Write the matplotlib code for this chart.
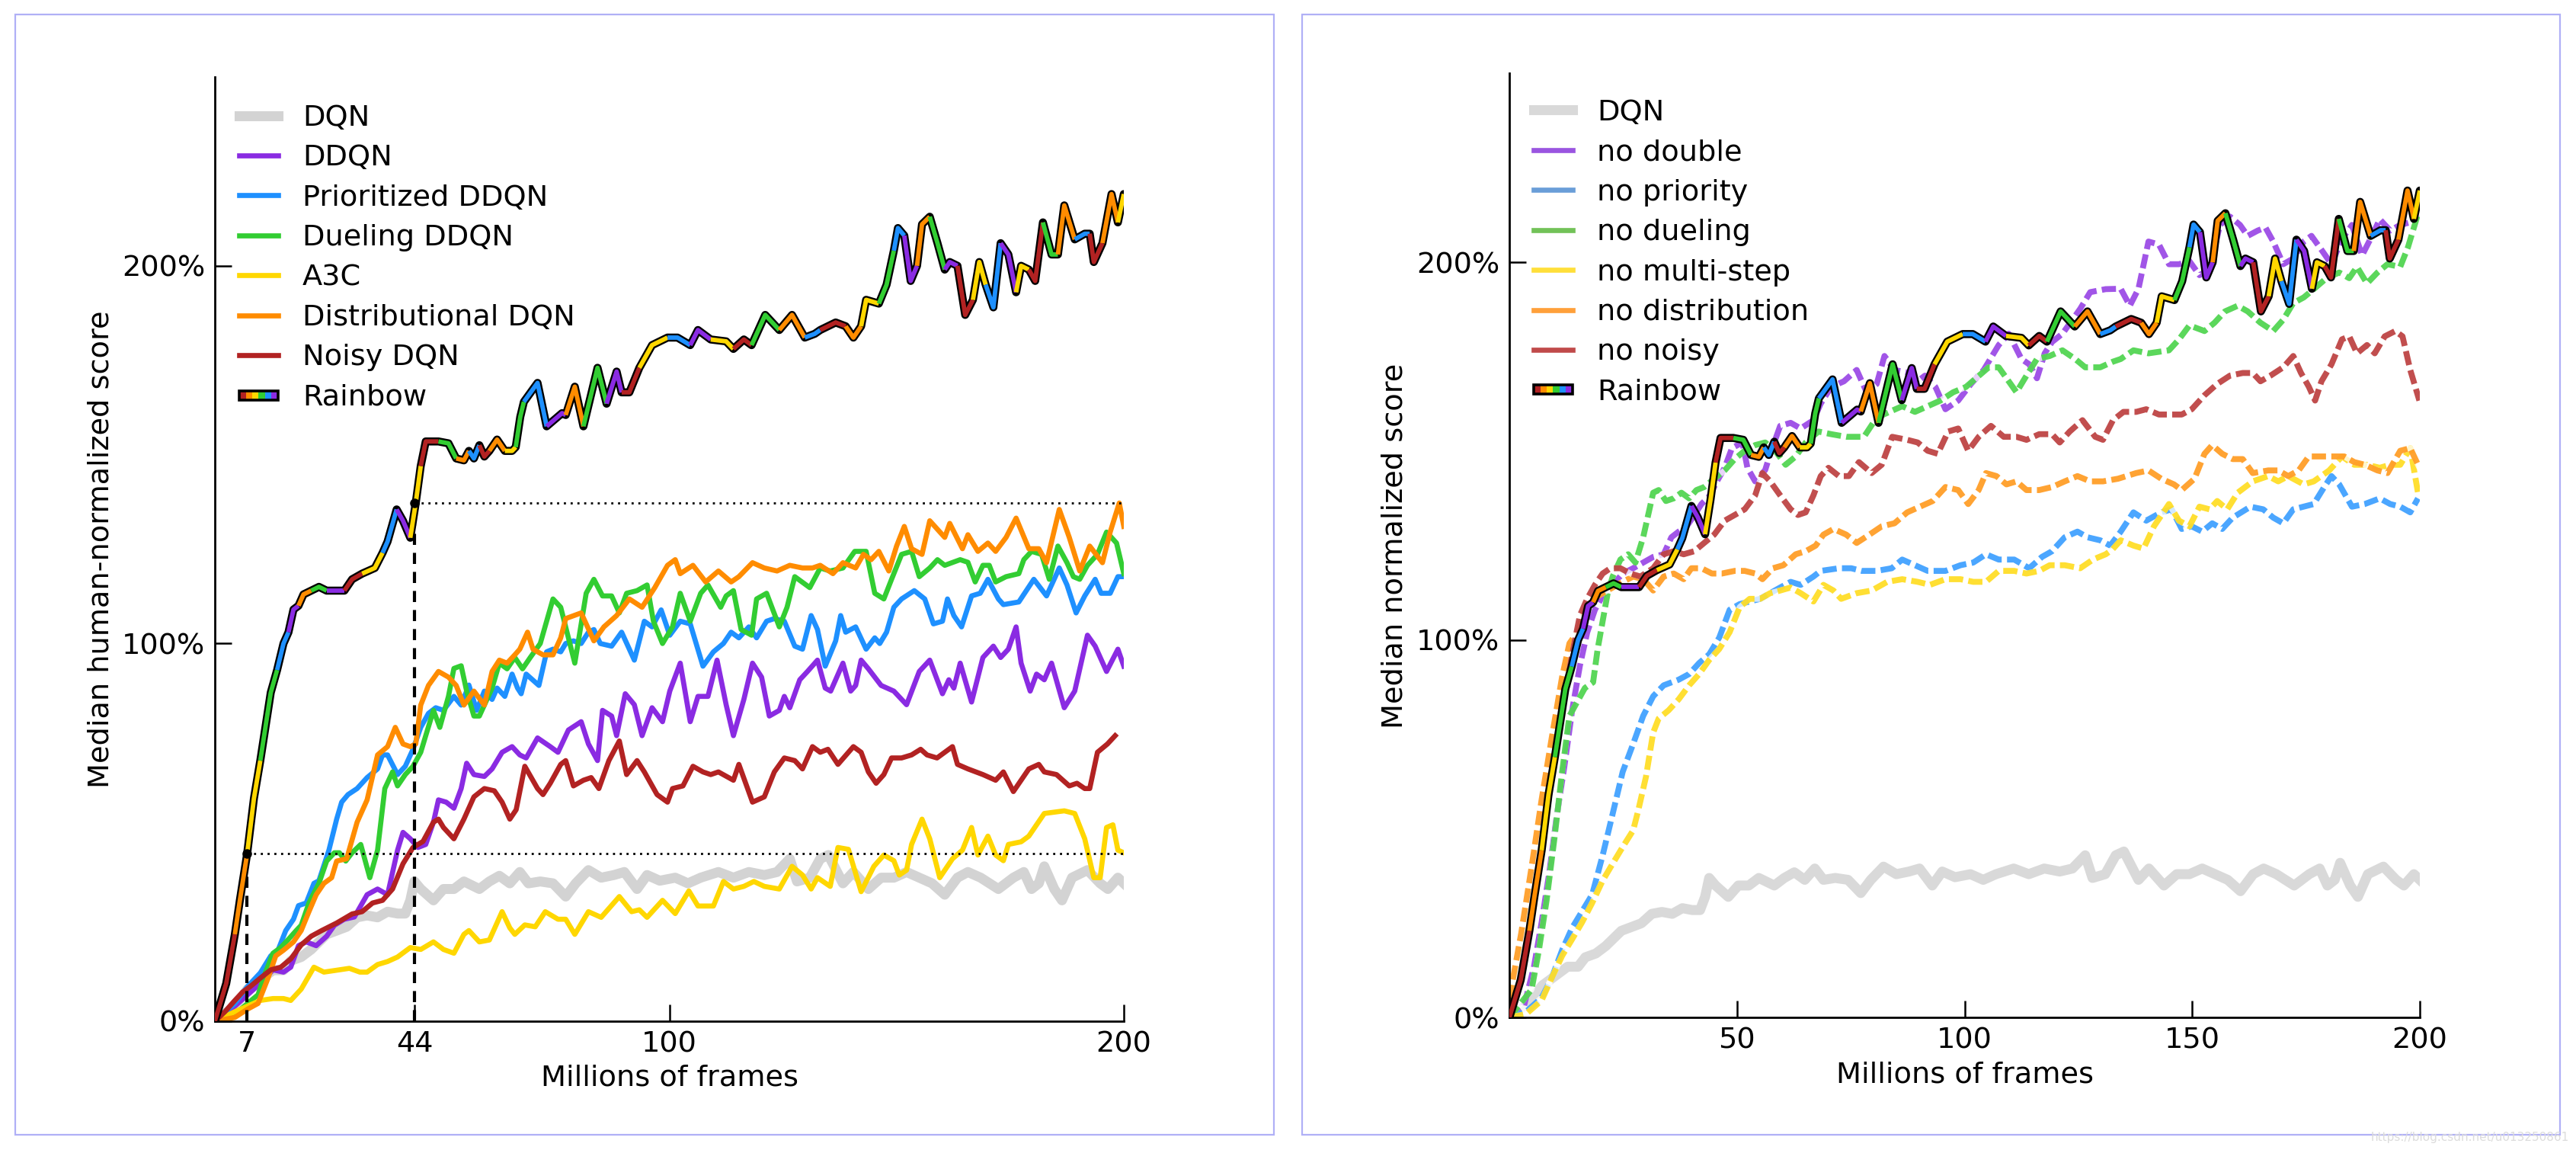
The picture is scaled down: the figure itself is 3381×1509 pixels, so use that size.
import matplotlib
matplotlib.use("Agg")
import matplotlib.pyplot as plt
from matplotlib.lines import Line2D
from matplotlib.patches import Rectangle
from matplotlib.legend_handler import HandlerBase

# ---- data: (millions of frames, median normalized score; 1.0 = 100%) ----
rainbow = [(0, 0), (2.5, 0.10), (4.4, 0.23), (5.5, 0.32), (7.1, 0.443), (8.6, 0.59), (10, 0.69),
           (12.3, 0.87), (13.7, 0.93), (15.1, 1.0), (16.2, 1.03), (17.3, 1.09), (18.4, 1.10),
           (19.5, 1.13), (21.2, 1.14), (22.9, 1.15), (24.6, 1.14), (26.8, 1.14), (28.5, 1.14),
           (30.2, 1.17), (32.4, 1.185), (35.2, 1.20), (36.9, 1.24), (38, 1.27), (40, 1.355),
           (41.4, 1.325), (43, 1.28), (44.2, 1.372), (45.3, 1.47), (46.4, 1.535), (49.2, 1.535),
           (51.4, 1.53), (53.1, 1.49), (54.8, 1.485), (55.9, 1.51), (57, 1.49), (58.2, 1.525),
           (59.3, 1.495), (60.4, 1.51), (62.1, 1.54), (63.8, 1.51), (65.4, 1.51), (66.2, 1.52),
           (67.2, 1.60), (68, 1.64), (71.0, 1.69), (73.0, 1.575), (76.4, 1.61), (77.2, 1.605),
           (79.2, 1.68), (81.1, 1.575), (84.2, 1.73), (86.2, 1.635), (88.4, 1.72), (89.5, 1.665),
           (91.2, 1.665), (93.4, 1.73), (96.2, 1.79), (99.6, 1.81), (101.8, 1.81), (104.6, 1.79),
           (106.3, 1.83), (109.1, 1.805), (112.5, 1.80), (114.1, 1.78), (116.4, 1.805),
           (118.1, 1.79), (121.1, 1.87), (124.2, 1.83), (127.0, 1.87), (129.8, 1.81), (132, 1.82),
           (133.2, 1.83), (136.6, 1.85), (138.8, 1.84), (140.5, 1.81), (142.2, 1.84), (143.3, 1.91),
           (146.1, 1.90), (147.8, 1.95), (149.4, 2.04), (150.3, 2.10), (151.7, 2.08), (153.1, 1.96),
           (154.5, 2.00), (155.6, 2.11), (157.3, 2.13), (159.0, 2.06), (160.6, 1.99), (161.7, 2.01),
           (163.4, 2.00), (165.1, 1.87), (166.8, 1.91), (168.2, 2.01), (169.6, 1.95), (171.3, 1.89),
           (172.9, 2.06), (174.6, 2.03), (176.3, 1.93), (177.4, 2.00), (179.1, 1.99), (180.5, 1.96),
           (182.2, 2.115), (184.1, 2.03), (185.5, 2.03), (186.9, 2.16), (189.2, 2.07), (191.4, 2.085),
           (192.5, 2.085), (193.4, 2.01), (195.3, 2.06), (197.3, 2.19), (198.7, 2.115), (200, 2.19)]

dqn = [(0, 0), (4.4, 0.04), (7.2, 0.085), (10, 0.11), (12.8, 0.135), (15.1, 0.135), (16.7, 0.16),
       (19, 0.17), (21.2, 0.19), (22.9, 0.21), (24.6, 0.23), (26.8, 0.24), (29, 0.25), (31.3, 0.275),
       (33.5, 0.28), (35.8, 0.275), (38, 0.29), (40.2, 0.285), (41.9, 0.285), (43, 0.32), (43.9, 0.37),
       (45.3, 0.35), (48.1, 0.32), (50.3, 0.35), (52.6, 0.35), (54.8, 0.37), (56.5, 0.36), (58.2, 0.35),
       (60.4, 0.37), (62.6, 0.385), (64.9, 0.365), (67.1, 0.395), (69, 0.365), (71.6, 0.37),
       (74.4, 0.365), (77.2, 0.33), (79.4, 0.365), (82.2, 0.40), (85, 0.38), (87.8, 0.387),
       (90.1, 0.395), (92.9, 0.35), (95.1, 0.387), (97.9, 0.372), (101.3, 0.38), (104.1, 0.365),
       (106.9, 0.38), (110.8, 0.395), (114.1, 0.38), (117.5, 0.395), (120.9, 0.387), (123.7, 0.395),
       (126.5, 0.43), (128.1, 0.37), (130.9, 0.38), (133.2, 0.43), (135, 0.44), (138.2, 0.365),
       (140.5, 0.395), (143.8, 0.35), (146.6, 0.38), (149.4, 0.38), (152.2, 0.395), (155, 0.38),
       (157.8, 0.365), (160.6, 0.335), (163.4, 0.38), (165.7, 0.395), (168.5, 0.38), (172.4, 0.35),
       (175.7, 0.38), (178, 0.395), (179.7, 0.35), (181.3, 0.365), (182.5, 0.41), (184.7, 0.35),
       (186.4, 0.32), (188.6, 0.38), (192, 0.40), (194.8, 0.365), (196.5, 0.35), (198.7, 0.38),
       (200, 0.365)]

ddqn = [(0, 0), (4.4, 0.04), (10, 0.10), (12.8, 0.136), (15.1, 0.13), (16.7, 0.143), (18.4, 0.20),
        (20.1, 0.21), (22.3, 0.20), (24.6, 0.225), (26.3, 0.254), (28.5, 0.27), (30.7, 0.276),
        (33.5, 0.335), (35.8, 0.35), (38, 0.335), (40.2, 0.453), (41.4, 0.50), (43, 0.483),
        (44.7, 0.46), (46.4, 0.468), (48.1, 0.527), (49.2, 0.586), (50.9, 0.58), (52.6, 0.564),
        (54.2, 0.616), (55.4, 0.683), (57, 0.653), (59.3, 0.648), (61, 0.668), (63.2, 0.712),
        (65.4, 0.727), (67.1, 0.705), (68.5, 0.697), (71, 0.75), (73.8, 0.727), (75.5, 0.712),
        (77.8, 0.771), (80.6, 0.793), (82.2, 0.734), (84.2, 0.69), (85.3, 0.823), (87.3, 0.808),
        (88.4, 0.756), (90.3, 0.867), (92.3, 0.838), (94, 0.756), (96.2, 0.83), (98.5, 0.793),
        (100.1, 0.874), (102.4, 0.948), (104.6, 0.793), (106.3, 0.86), (108.5, 0.86), (110.5, 0.956),
        (112.5, 0.838), (114.1, 0.756), (116.4, 0.852), (118.3, 0.948), (120.3, 0.911), (122, 0.808),
        (124.2, 0.823), (125.3, 0.86), (126.5, 0.83), (128.7, 0.904), (130.4, 0.926), (132.6, 0.956),
        (134.3, 0.882), (135.5, 0.874), (138.2, 0.948), (139.9, 0.874), (141, 0.889), (142.2, 0.956),
        (143.8, 0.933), (146.6, 0.889), (149.4, 0.874), (152.2, 0.838), (155, 0.926), (157.3, 0.956),
        (160.1, 0.867), (161.5, 0.904), (162.6, 0.882), (164, 0.948), (166.5, 0.845), (169, 0.963),
        (171.3, 0.993), (172.9, 0.963), (174.6, 0.985), (176.3, 1.044), (177.4, 0.948), (179.4, 0.874),
        (180.8, 0.919), (182.5, 0.904), (184.1, 0.948), (186.9, 0.83), (189.2, 0.874), (192, 1.022),
        (193.7, 0.993), (196.2, 0.926), (198.7, 0.985), (200, 0.94)]

prioritized = [(0, 0), (4.4, 0.047), (7.2, 0.092), (10, 0.128), (12.3, 0.173), (13.9, 0.188),
               (15.6, 0.24), (17.3, 0.27), (18.4, 0.306), (20.1, 0.313), (21.8, 0.365), (22.9, 0.372),
               (25.1, 0.453), (26.8, 0.535), (27.9, 0.58), (29.3, 0.60), (31.3, 0.616), (33.5, 0.645),
               (35.8, 0.668), (36.9, 0.705), (38, 0.705), (40.2, 0.653), (41.9, 0.675), (43.6, 0.72),
               (45.3, 0.778), (47, 0.815), (48.6, 0.83), (50.3, 0.823), (52.6, 0.86), (54.2, 0.837),
               (55.9, 0.89), (57.6, 0.823), (59.3, 0.874), (61, 0.852), (62.1, 0.882), (63.8, 0.86),
               (65.4, 0.919), (66.6, 0.882), (67.4, 0.867), (68.5, 0.919), (69.9, 0.904), (71.3, 0.889),
               (73, 0.978), (74.4, 0.985), (76.1, 0.978), (77.2, 1.0), (78.9, 1.007), (80.6, 1.0),
               (82.2, 1.03), (83.4, 1.037), (84.8, 1.0), (87.3, 0.993), (89.5, 1.03), (92.3, 0.956),
               (94.5, 1.059), (96.2, 1.044), (98.2, 1.089), (100.1, 1.022), (102.4, 1.059),
               (104.6, 1.052), (107.4, 0.94), (109.7, 0.978), (111.9, 1.0), (113.6, 1.03),
               (115.3, 1.015), (117.5, 1.044), (119.2, 1.015), (121.4, 1.059), (123.1, 1.066),
               (125.3, 1.059), (127.6, 0.993), (129.3, 0.985), (131.2, 1.074), (132.6, 1.037),
               (134.3, 0.94), (136.6, 1.007), (137.7, 1.074), (138.8, 1.03), (141, 1.044), (143.3, 0.985),
               (145.2, 1.015), (146.3, 1.0), (147.8, 1.03), (149.4, 1.096), (151.1, 1.118), (153.9, 1.14),
               (156.2, 1.118), (158.1, 1.052), (160.1, 1.059), (161.2, 1.118), (162.6, 1.074),
               (164.3, 1.044), (166.5, 1.126), (168.4, 1.133), (170.1, 1.17), (172.4, 1.118),
               (173.5, 1.103), (176.9, 1.11), (180.2, 1.17), (183, 1.126), (185.8, 1.2), (187.5, 1.155),
               (189.5, 1.081), (191.4, 1.126), (193.7, 1.17), (195, 1.133), (197, 1.133), (198.7, 1.177),
               (200, 1.177)]

dueling = [(0, 0), (4.4, 0.018), (7.2, 0.047), (9.5, 0.07), (11.1, 0.128), (12.8, 0.18), (14.5, 0.195),
           (16.2, 0.217), (17.9, 0.24), (19, 0.254), (20.7, 0.313), (22.9, 0.365), (24.6, 0.424),
           (26.3, 0.446), (27.4, 0.446), (28.8, 0.424), (30.2, 0.446), (32.1, 0.468), (34.1, 0.38),
           (35.8, 0.453), (37.4, 0.616), (39.1, 0.66), (40.2, 0.623), (41.9, 0.653), (43.6, 0.675),
           (45.3, 0.712), (46.4, 0.756), (48.1, 0.823), (49.5, 0.778), (51.4, 0.86), (52.6, 0.934),
           (54.2, 0.941), (55.4, 0.874), (57, 0.808), (58.2, 0.808), (59.3, 0.837), (61, 0.882),
           (62.6, 0.948), (64.3, 0.933), (66, 0.963), (67.7, 0.933), (69.4, 0.963), (71.6, 1.0),
           (74.4, 1.118), (76.1, 1.096), (79.2, 0.948), (81.7, 1.133), (83.4, 1.17), (85.3, 1.126),
           (87.3, 1.126), (89, 1.081), (90.6, 1.133), (92.9, 1.14), (95.1, 1.155), (96.5, 1.059),
           (98.5, 1.0), (100.7, 1.044), (102.4, 1.133), (104.6, 1.059), (106.9, 1.133), (108.5, 1.155),
           (111.3, 1.096), (112.5, 1.126), (114.1, 1.14), (115.8, 1.037), (118.1, 1.022),
           (119.2, 1.118), (121.4, 1.133), (124.2, 1.044), (125.9, 1.096), (127.6, 1.177),
           (130.9, 1.148), (133.2, 1.2), (135.4, 1.192), (138.2, 1.2), (140.8, 1.244), (143.3, 1.244),
           (145.2, 1.133), (147.2, 1.118), (148.9, 1.17), (151.1, 1.236), (153.3, 1.244), (155, 1.177),
           (157.3, 1.2), (159, 1.222), (160.6, 1.207), (164, 1.222), (165.7, 1.215), (167.3, 1.163),
           (169, 1.207), (170.4, 1.207), (171.8, 1.163), (174.1, 1.177), (176.9, 1.185), (178, 1.222),
           (179.7, 1.244), (181.9, 1.236), (183.6, 1.17), (185.5, 1.258), (187.5, 1.214),
           (188.9, 1.177), (190.3, 1.17), (192, 1.207), (194.2, 1.236), (196.2, 1.295), (198.4, 1.266),
           (200, 1.185)]

a3c = [(0, 0), (4.4, 0.025), (7.2, 0.04), (10, 0.055), (12.8, 0.06), (15.1, 0.06), (16.7, 0.055),
       (19, 0.085), (21.8, 0.143), (24, 0.13), (26.8, 0.135), (29.6, 0.14), (31.9, 0.13), (33.5, 0.13),
       (35.8, 0.15), (38, 0.158), (40.2, 0.17), (43, 0.195), (45.3, 0.19), (48.1, 0.21), (50.3, 0.19),
       (52.6, 0.18), (54.8, 0.23), (55.9, 0.24), (58.2, 0.21), (60.4, 0.215), (63.2, 0.29),
       (64.9, 0.247), (66, 0.23), (68.2, 0.255), (70.5, 0.25), (72.7, 0.29), (75.5, 0.27), (77.2, 0.27),
       (79.2, 0.23), (82.2, 0.29), (85, 0.275), (89, 0.33), (91.7, 0.29), (93.4, 0.295), (95.1, 0.275),
       (98.5, 0.32), (101.3, 0.285), (104.3, 0.345), (106.3, 0.305), (109.7, 0.305), (111.9, 0.37),
       (114.1, 0.35), (116.4, 0.357), (118.6, 0.37), (120.9, 0.357), (124.2, 0.35), (127, 0.41),
       (129.3, 0.387), (131.2, 0.35), (132.6, 0.38), (135.4, 0.357), (137.1, 0.46), (139.4, 0.455),
       (142.2, 0.343), (145, 0.41), (147.2, 0.44), (149.4, 0.425), (150.6, 0.387), (152.2, 0.40),
       (153.3, 0.468), (155.6, 0.535), (157.3, 0.483), (159.5, 0.38), (162.3, 0.43), (164.5, 0.453),
       (166.5, 0.513), (167.9, 0.44), (170.1, 0.49), (171.8, 0.44), (173.5, 0.425), (174.6, 0.468),
       (177.4, 0.475), (179.1, 0.49), (182.5, 0.55), (186.9, 0.557), (189.2, 0.55), (191.4, 0.483),
       (193.4, 0.38), (194.8, 0.38), (196.2, 0.513), (197.6, 0.52), (198.7, 0.453), (200, 0.446)]

distributional = [(0, 0), (4.4, 0.01), (7.2, 0.032), (9.5, 0.047), (11.7, 0.114), (13.4, 0.173),
                  (15.1, 0.188), (17.3, 0.21), (19, 0.24), (20.7, 0.29), (22.3, 0.335), (24, 0.365),
                  (25.7, 0.38), (26.8, 0.424), (29, 0.43), (31.3, 0.527), (33.5, 0.586), (35.8, 0.705),
                  (38, 0.727), (39.7, 0.778), (41.4, 0.734), (43, 0.727), (44.2, 0.734), (45.3, 0.837),
                  (47, 0.889), (49.2, 0.926), (51.4, 0.911), (53.1, 0.889), (54.8, 0.837), (57, 0.874),
                  (59.3, 0.837), (61, 0.926), (62.6, 0.956), (64.3, 0.948), (66, 0.97), (67.1, 0.985),
                  (68.8, 1.03), (70, 0.985), (72.2, 0.97), (74.4, 0.97), (76.1, 1.015), (77.2, 1.066),
                  (80.6, 1.081), (83.4, 1.007), (85.6, 1.044), (88.4, 1.074), (91.2, 1.118),
                  (94, 1.096), (96.8, 1.148), (99.6, 1.207), (101.3, 1.222), (102.4, 1.185),
                  (105.2, 1.207), (108, 1.163), (110.8, 1.192), (113.6, 1.163), (115.3, 1.177),
                  (118.3, 1.214), (120.9, 1.2), (123.7, 1.192), (126.5, 1.207), (129.3, 1.2),
                  (131.5, 1.2), (133.2, 1.207), (136, 1.185), (138.2, 1.214), (141, 1.2), (142.7, 1.236),
                  (144.4, 1.222), (146.1, 1.244), (148.3, 1.192), (150, 1.258), (151.7, 1.31),
                  (153.3, 1.251), (155.6, 1.236), (157.3, 1.325), (160.6, 1.281), (161.7, 1.318),
                  (164.5, 1.251), (165.7, 1.288), (167.9, 1.244), (170.1, 1.266), (171.8, 1.244),
                  (174.1, 1.281), (176.3, 1.332), (179.1, 1.251), (181.3, 1.251), (183, 1.214),
                  (185.8, 1.355), (188, 1.281), (190.3, 1.192), (192.5, 1.258), (195.3, 1.214),
                  (197, 1.295), (199, 1.372), (200, 1.31)]

noisy = [(0, 0), (2.2, 0.025), (4.4, 0.055), (6.1, 0.077), (7.8, 0.092), (10, 0.114), (12.3, 0.136),
         (14.5, 0.143), (16.7, 0.165), (19, 0.202), (21.2, 0.225), (23.5, 0.24), (26.8, 0.26),
         (30.2, 0.284), (32.4, 0.29), (34.7, 0.313), (36.9, 0.32), (39.1, 0.35), (41.4, 0.417),
         (43.6, 0.46), (45.8, 0.476), (48.1, 0.527), (49.2, 0.535), (50.3, 0.513), (52.6, 0.483),
         (54.8, 0.535), (57, 0.594), (59.3, 0.616), (61.5, 0.61), (63.2, 0.58), (64.9, 0.535),
         (66.3, 0.56), (68.2, 0.675), (71, 0.616), (72.2, 0.60), (73.8, 0.63), (76.1, 0.68),
         (77.2, 0.69), (78.9, 0.623), (81.1, 0.638), (82.8, 0.645), (84.5, 0.616), (86.7, 0.69),
         (89, 0.742), (90.6, 0.653), (92.9, 0.69), (94.5, 0.66), (97.3, 0.60), (99.6, 0.58),
         (100.7, 0.616), (103, 0.623), (105.2, 0.675), (107.4, 0.66), (109.1, 0.653), (110.8, 0.66),
         (114.1, 0.638), (115.3, 0.68), (118.3, 0.58), (120.9, 0.594), (123.1, 0.66), (125.3, 0.697),
         (127.6, 0.69), (129.3, 0.668), (131.5, 0.727), (133.2, 0.712), (134.9, 0.72), (137.1, 0.68),
         (140.5, 0.727), (142.2, 0.712), (143.8, 0.66), (145.5, 0.63), (147.2, 0.653), (148.9, 0.697),
         (151.1, 0.697), (153.3, 0.705), (155.3, 0.72), (156.7, 0.705), (158.9, 0.697), (160.6, 0.712),
         (162.3, 0.727), (163.4, 0.68), (165.7, 0.668), (169, 0.653), (171.8, 0.638), (173.5, 0.66),
         (175.7, 0.608), (177.4, 0.638), (179.1, 0.668), (181.3, 0.68), (182.5, 0.66), (185.2, 0.653),
         (188, 0.623), (189.7, 0.63), (191.4, 0.616), (192.5, 0.616), (194.2, 0.712), (196.4, 0.734),
         (198.1, 0.756)]

no_double = [(0, 0), (3.2, 0.03), (5.4, 0.134), (7.1, 0.253), (8.8, 0.386), (10.4, 0.533), (12.1, 0.666),
             (13.8, 0.814), (15.5, 0.932), (17.1, 1.02), (18.8, 1.08), (20.5, 1.117), (22.7, 1.146),
             (24.9, 1.176), (27.2, 1.19), (29.4, 1.205), (31.6, 1.22), (33.9, 1.227), (35.6, 1.272),
             (37.2, 1.287), (38.9, 1.30), (40.6, 1.33), (42.2, 1.36), (43.9, 1.38), (45.6, 1.42),
             (47.3, 1.456), (48.9, 1.508), (51.2, 1.523), (52.3, 1.456), (54, 1.42), (56.2, 1.45),
             (57.3, 1.493), (59.5, 1.567), (61.8, 1.575), (64, 1.56), (66.8, 1.582), (68.4, 1.626),
             (70.7, 1.67), (73.5, 1.685), (76.3, 1.715), (78.5, 1.656), (80.7, 1.678), (82.4, 1.752),
             (84.6, 1.715), (87.4, 1.708), (89.7, 1.685), (91.3, 1.70), (93.6, 1.67), (95.8, 1.611),
             (98.6, 1.634), (101.4, 1.678), (104.2, 1.715), (107.5, 1.781), (109.7, 1.811),
             (112.5, 1.744), (114.2, 1.73), (115.9, 1.693), (117.6, 1.759), (119.2, 1.789),
             (121.5, 1.811), (123.7, 1.848), (125.4, 1.877), (127.6, 1.921), (131, 1.929), (134.3, 1.93),
             (136.3, 1.885), (138.2, 1.93), (140.4, 2.055), (142.7, 2.047), (144.9, 1.995),
             (147.1, 1.995), (149.4, 2.003), (151.6, 1.966), (153.8, 1.981), (156.1, 2.099),
             (158.3, 2.121), (160.5, 2.099), (162.2, 2.07), (164.4, 2.084), (166.1, 2.092),
             (167.8, 2.055), (170, 1.995), (172.2, 2.01), (174.5, 2.055), (176.2, 2.07), (178.4, 2.033),
             (180.6, 1.995), (182.9, 2.062), (185.1, 2.099), (187.3, 2.018), (189.5, 2.07),
             (191.2, 2.114), (193.5, 2.084), (195.7, 2.099), (197.9, 2.106), (199.6, 2.128)]

no_priority = [(0, 0), (3.7, 0.016), (7.1, 0.053), (9.3, 0.105), (11.6, 0.179), (13.8, 0.238), (16, 0.282),
               (18.2, 0.326), (20.5, 0.43), (22.7, 0.54), (24.9, 0.651), (27.2, 0.725), (29.4, 0.799),
               (31.6, 0.851), (33.9, 0.88), (37.2, 0.895), (39.5, 0.91), (41.7, 0.939), (43.9, 0.962),
               (46.1, 1.006), (48.4, 1.08), (50.6, 1.095), (52.8, 1.102), (55.1, 1.109), (57.3, 1.124),
               (59.5, 1.139), (61.8, 1.154), (64, 1.146), (66.8, 1.168), (68.4, 1.183), (72.4, 1.19),
               (75.1, 1.19), (77.4, 1.183), (80.7, 1.183), (84, 1.19), (86.3, 1.213), (89.1, 1.198),
               (91.9, 1.183), (95.8, 1.183), (99.1, 1.198), (101.9, 1.205), (104.7, 1.227),
               (107.5, 1.213), (110.9, 1.213), (114.2, 1.19), (117, 1.22), (119.2, 1.235), (122, 1.272),
               (124.8, 1.287), (127, 1.272), (129.8, 1.264), (132, 1.25), (134.3, 1.287), (137.1, 1.338),
               (139.9, 1.316), (143.2, 1.338), (145.5, 1.346), (147.7, 1.294), (149.9, 1.301),
               (152.2, 1.287), (154.4, 1.309), (156.6, 1.294), (158.9, 1.324), (162.8, 1.353),
               (165.6, 1.346), (167.8, 1.324), (170, 1.309), (172.2, 1.346), (176.7, 1.36), (179, 1.405),
               (180.6, 1.434), (182.3, 1.412), (185.1, 1.353), (187.9, 1.36), (191.2, 1.375),
               (193.5, 1.36), (195.7, 1.353), (197.9, 1.338), (199.6, 1.375)]

no_dueling = [(0, 0), (4.9, 0.075), (6.5, 0.179), (8.2, 0.312), (9.9, 0.474), (11.6, 0.651), (13.2, 0.799),
              (14.9, 0.836), (16.6, 0.873), (18.4, 0.888), (19.4, 0.976), (20.5, 1.05), (21.6, 1.124),
              (22.7, 1.168), (24.4, 1.213), (26.1, 1.227), (27.7, 1.205), (29.4, 1.272), (31.6, 1.39),
              (32.8, 1.397), (34.4, 1.368), (36.1, 1.375), (37.8, 1.39), (39.5, 1.375), (41.1, 1.397),
              (42.8, 1.405), (45, 1.427), (47.3, 1.449), (49.5, 1.479), (51.7, 1.501), (54, 1.516),
              (56.2, 1.523), (58.4, 1.501), (60.7, 1.464), (62.9, 1.486), (65.1, 1.523), (67.9, 1.552),
              (70.7, 1.545), (74, 1.538), (77.9, 1.538), (80.7, 1.589), (83.5, 1.604), (86.3, 1.619),
              (89.1, 1.604), (91.9, 1.619), (94.7, 1.634), (97.5, 1.656), (100.3, 1.67), (102.5, 1.693),
              (105.3, 1.722), (107.5, 1.722), (109.7, 1.685), (111.4, 1.656), (113.6, 1.70),
              (115.9, 1.744), (118.7, 1.752), (121.5, 1.767), (124.3, 1.744), (126.5, 1.722),
              (129.8, 1.722), (132.6, 1.737), (134.3, 1.744), (137.1, 1.767), (140.4, 1.759),
              (144.9, 1.767), (147.1, 1.796), (149.4, 1.833), (152.7, 1.818), (154.9, 1.84),
              (157.2, 1.87), (160, 1.885), (162.2, 1.87), (165, 1.84), (167.8, 1.818), (170, 1.848),
              (172.2, 1.892), (174.5, 1.907), (176.7, 1.929), (179.5, 1.958), (182.3, 1.973),
              (184.5, 1.958), (186.2, 1.988), (188.4, 1.944), (190.7, 1.973), (192.9, 1.995),
              (195.7, 1.988), (197.4, 2.04), (199.6, 2.128)]

no_multistep = [(0, 0), (3.7, 0.01), (7.1, 0.046), (9.3, 0.105), (11.6, 0.164), (13.8, 0.208), (16, 0.253),
                (18.2, 0.304), (20.5, 0.363), (22.7, 0.408), (24.9, 0.452), (27.2, 0.496), (28.3, 0.548),
                (30, 0.637), (31.6, 0.755), (32.8, 0.792), (35, 0.814), (37.2, 0.843), (39.5, 0.88),
                (41.7, 0.91), (43.9, 0.947), (46.1, 0.976), (48.4, 1.021), (50.6, 1.087), (52.8, 1.109),
                (55.1, 1.109), (57.3, 1.124), (59.5, 1.131), (61.8, 1.139), (64, 1.124), (66.8, 1.102),
                (69, 1.146), (71.2, 1.131), (72.9, 1.109), (76.3, 1.124), (79.6, 1.131), (83, 1.154),
                (86.3, 1.161), (89.7, 1.154), (92.4, 1.146), (95.8, 1.161), (99.1, 1.161),
                (101.9, 1.154), (104.7, 1.154), (107.5, 1.183), (110.9, 1.183), (113.6, 1.176),
                (116.4, 1.183), (118.7, 1.198), (122, 1.198), (125.4, 1.19), (128.2, 1.213),
                (131, 1.227), (132.5, 1.24), (134.3, 1.264), (137.1, 1.25), (139.3, 1.242),
                (141.6, 1.301), (144.9, 1.36), (147.1, 1.316), (149.4, 1.301), (151.6, 1.353),
                (153.8, 1.346), (155.5, 1.368), (157.7, 1.346), (160, 1.39), (163.3, 1.42),
                (166.7, 1.434), (168.9, 1.42), (171.1, 1.434), (174.5, 1.412), (176.7, 1.42),
                (180.1, 1.449), (182.9, 1.486), (185.6, 1.464), (188.4, 1.464), (191.2, 1.456),
                (193.5, 1.464), (195.7, 1.464), (197.9, 1.508), (199.6, 1.39)]

no_distribution = [(0, 0.05), (2.6, 0.223), (4.9, 0.40), (7.1, 0.578), (9.3, 0.74), (11.6, 0.903),
                   (13.2, 0.991), (14.9, 1.02), (16.6, 1.08), (18.4, 1.109), (20.5, 1.124), (22.7, 1.139),
                   (24.9, 1.154), (27.2, 1.168), (29.4, 1.161), (31.6, 1.131), (33.9, 1.168),
                   (36.1, 1.176), (38.3, 1.161), (40, 1.19), (42.2, 1.19), (44.5, 1.176), (46.7, 1.176),
                   (49.5, 1.183), (51.7, 1.183), (54, 1.176), (55.6, 1.161), (57.9, 1.19), (60.2, 1.198),
                   (62.9, 1.227), (65.1, 1.235), (67.3, 1.25), (69, 1.279), (71.2, 1.294), (74, 1.279),
                   (76.3, 1.257), (79.1, 1.279), (81.8, 1.301), (84.6, 1.309), (87.4, 1.338),
                   (90.2, 1.353), (93, 1.368), (95.8, 1.405), (98.6, 1.397), (100.8, 1.36),
                   (103.1, 1.397), (104.7, 1.442), (107, 1.434), (109.2, 1.412), (111.4, 1.42),
                   (113.6, 1.397), (116.4, 1.397), (119.2, 1.405), (122, 1.42), (124.8, 1.434),
                   (127.6, 1.42), (130.4, 1.42), (133.7, 1.427), (137.7, 1.442), (140.4, 1.449),
                   (143.2, 1.427), (146, 1.412), (147.7, 1.397), (150.5, 1.427), (152.7, 1.493),
                   (154.4, 1.516), (156.6, 1.493), (158.9, 1.479), (161.1, 1.479), (163.3, 1.442),
                   (166.7, 1.449), (168.9, 1.449), (171.1, 1.434), (173.4, 1.449), (175.6, 1.486),
                   (178.4, 1.486), (180.6, 1.486), (183.4, 1.486), (185.6, 1.471), (187.9, 1.464),
                   (190.7, 1.449), (192.9, 1.442), (195.7, 1.501), (197.9, 1.508), (199.6, 1.464)]

no_noisy = [(0, 0), (2.6, 0.105), (4.9, 0.267), (7.1, 0.445), (9.3, 0.637), (11.6, 0.814), (13.8, 0.962),
            (15.5, 1.065), (17.1, 1.109), (18.8, 1.146), (20.5, 1.176), (22.2, 1.19), (24.4, 1.19),
            (26.6, 1.176), (28.8, 1.168), (31.6, 1.19), (33.9, 1.227), (36.1, 1.235), (38.3, 1.227),
            (40.6, 1.235), (42.8, 1.257), (45, 1.279), (47.3, 1.316), (49.5, 1.331), (51.7, 1.346),
            (54, 1.383), (55.6, 1.442), (57.3, 1.42), (59.5, 1.383), (61.8, 1.346), (63.4, 1.331),
            (65.1, 1.338), (66.8, 1.383), (68.4, 1.434), (70.1, 1.456), (72.4, 1.434), (74.6, 1.434),
            (76.8, 1.471), (79.6, 1.442), (81.8, 1.464), (84.1, 1.538), (87.4, 1.53), (89.7, 1.523),
            (91.9, 1.501), (94.1, 1.493), (96.4, 1.552), (98.6, 1.56), (100.8, 1.501), (103.1, 1.538),
            (105.8, 1.567), (108.6, 1.538), (111.4, 1.538), (113.6, 1.53), (116.4, 1.545),
            (119.2, 1.545), (120.9, 1.523), (123.1, 1.552), (125.9, 1.582), (128.7, 1.538),
            (130.4, 1.53), (132.6, 1.582), (134.9, 1.604), (137.7, 1.604), (139.9, 1.611),
            (142.7, 1.597), (145.5, 1.597), (147.7, 1.597), (149.9, 1.611), (152.7, 1.648),
            (155.5, 1.678), (158.3, 1.70), (161.1, 1.707), (163.3, 1.707), (165, 1.685), (167.2, 1.70),
            (170, 1.722), (172.2, 1.752), (173.9, 1.707), (175.6, 1.671), (177, 1.634), (178.4, 1.685),
            (180.6, 1.73), (182.9, 1.796), (184.5, 1.804), (186.2, 1.759), (188.4, 1.781),
            (190.1, 1.759), (192.3, 1.804), (194.6, 1.818), (196.2, 1.804), (197.9, 1.715),
            (199.9, 1.634)]

# frames at which Rainbow matches DQN's and the best baseline's final score
ref_frames = [7, 44]
ref_scores = [0.443, 1.372]

left_xticks = [7, 44, 100, 200]
right_xticks = [50, 100, 150, 200]
yticks = [0, 1, 2]
ytick_labels = ["0%", "100%", "200%"]

# ---- style ----
FS = 27.5
plt.rcParams["font.family"] = ["DejaVu Sans"]
plt.rcParams["font.size"] = FS

c_dqn = "#d3d3d3"
c_ddqn = "#8a2be2"
c_prior = "#1e90ff"
c_duel = "#32cd32"
c_a3c = "#ffd700"
c_dist = "#ff8c00"
c_noisy = "#b22222"
stripe_colors = [c_noisy, c_dist, c_a3c, c_duel, c_prior, c_ddqn]
seg_order = [0, 1, 2, 3, 4, 5, 1, 3, 5, 0, 2, 4, 5, 2, 0, 3, 1, 4]

LW = 4.8
LW_DQN = 9.4


class RainbowHandler(HandlerBase):
    def create_artists(self, legend, orig_handle, xdescent, ydescent, width, height, fontsize, trans):
        h = height * 0.45
        y0 = -ydescent + (height - h) / 2
        w = width / len(stripe_colors)
        arts = []
        for i, c in enumerate(stripe_colors):
            arts.append(Rectangle((-xdescent + i * w, y0), w, h, facecolor=c,
                                  edgecolor="none", transform=trans))
        arts.append(Rectangle((-xdescent, y0), width, h, facecolor="none",
                              edgecolor="black", lw=2.6, transform=trans))
        return arts


def xy(data):
    return [p[0] for p in data], [p[1] for p in data]


def draw_rainbow(ax):
    x, y = xy(rainbow)
    ax.plot(x, y, color="black", lw=7.6, solid_capstyle="round", solid_joinstyle="round", zorder=10)
    step = 2
    k = 0
    for i in range(0, len(x) - 1, step):
        j = min(i + step, len(x) - 1)
        c = stripe_colors[seg_order[k % len(seg_order)]]
        ax.plot(x[i:j + 1], y[i:j + 1], color=c, lw=4.2, solid_capstyle="butt",
                solid_joinstyle="round", zorder=11)
        k += 1


def style_axes(ax, xticks):
    ax.set_xlim(0, 200)
    ax.set_ylim(0, 2.5)
    ax.spines["top"].set_visible(False)
    ax.spines["right"].set_visible(False)
    ax.spines["left"].set_linewidth(2)
    ax.spines["bottom"].set_linewidth(2)
    ax.set_xticks(xticks)
    ax.set_yticks(yticks)
    ax.set_yticklabels(ytick_labels)
    ax.tick_params(direction="in", length=16, width=1.8, labelsize=FS, pad=9)
    ax.set_xlabel("Millions of frames", fontsize=FS, labelpad=6)


legend_kw = dict(handler_map={Rectangle: RainbowHandler()}, loc="upper left", frameon=False,
                 fontsize=FS, borderpad=0, borderaxespad=0, handlelength=1.32,
                 handletextpad=0.85, labelspacing=0.43)

fig = plt.figure(figsize=(33.81, 15.09), dpi=100)

# panel frames
for x0, x1 in [(20, 1672), (1709, 3360)]:
    fig.patches.append(Rectangle((x0 / 3381, 1 - 1489 / 1509), (x1 - x0) / 3381, (1489 - 19) / 1509,
                                 transform=fig.transFigure, fill=False,
                                 edgecolor="#b0b0f6", lw=1.6))

# ---- left panel ----
ax1 = fig.add_axes([282 / 3381, 1 - 1340 / 1509, 1193 / 3381, 1239 / 1509])
series_left = [(dqn, c_dqn, LW_DQN, "DQN"), (ddqn, c_ddqn, LW, "DDQN"),
               (prioritized, c_prior, LW, "Prioritized DDQN"), (dueling, c_duel, LW, "Dueling DDQN"),
               (a3c, c_a3c, LW, "A3C"), (distributional, c_dist, LW, "Distributional DQN"),
               (noisy, c_noisy, LW, "Noisy DQN")]
handles = []
for data, c, lw, lab in series_left:
    x, y = xy(data)
    ax1.plot(x, y, color=c, lw=lw, solid_joinstyle="round")
    handles.append(Line2D([], [], color=c, lw=lw))
draw_rainbow(ax1)
handles.append(Rectangle((0, 0), 1, 1))
labels = [s[3] for s in series_left] + ["Rainbow"]

for fx, fy in zip(ref_frames, ref_scores):
    ax1.plot([fx, 200], [fy, fy], color="black", lw=2, linestyle=(0, (1, 2.2)), zorder=8)
    ax1.plot([fx, fx], [0, fy], color="black", lw=3, linestyle=(0, (3.5, 2.5)), zorder=8)
ax1.plot(ref_frames, ref_scores, "o", color="black", ms=8, zorder=12, linestyle="none")

style_axes(ax1, left_xticks)
ax1.set_ylabel("Median human-normalized score", fontsize=FS, labelpad=7)
ax1.legend(handles, labels, bbox_to_anchor=(0.027, 0.971), **legend_kw)

# ---- right panel ----
ax2 = fig.add_axes([1981 / 3381, 1 - 1335.4 / 1509, 1195 / 3381, 1239 / 1509])
x, y = xy(dqn)
ax2.plot(x, y, color=c_dqn, lw=LW_DQN, alpha=0.85, solid_joinstyle="round")
series_right = [(no_double, c_ddqn, "no double"), (no_priority, c_prior, "no priority"),
                (no_dueling, c_duel, "no dueling"), (no_multistep, c_a3c, "no multi-step"),
                (no_distribution, c_dist, "no distribution"), (no_noisy, c_noisy, "no noisy")]
handles2 = [Line2D([], [], color=c_dqn, lw=LW_DQN, alpha=0.85)]
legend_cols = ["#9a55e0", "#6a9ed8", "#72c258", "#ffdf3a", "#ffa03a", "#c04a4a"]
for (data, c, lab), lc in zip(series_right, legend_cols):
    x, y = xy(data)
    ax2.plot(x, y, color="white", lw=5.6, alpha=0.75, solid_joinstyle="round")
    ax2.plot(x, y, color=c, lw=5.6, alpha=0.8, dashes=(2.4, 0.9), dash_capstyle="butt")
    handles2.append(Line2D([], [], color=lc, lw=LW))
draw_rainbow(ax2)
handles2.append(Rectangle((0, 0), 1, 1))
labels2 = ["DQN"] + [s[2] for s in series_right] + ["Rainbow"]

style_axes(ax2, right_xticks)
ax2.set_ylabel("Median normalized score", fontsize=FS, labelpad=8)
ax2.legend(handles2, labels2, bbox_to_anchor=(0.027, 0.973), **legend_kw)

fig.text(3372 / 3381, 1 - 1492 / 1509, "https://blog.csdn.net/u013250861", ha="right", va="center",
         fontsize=11, color="#dcdcdc")

fig.savefig("out.png", dpi=100)
